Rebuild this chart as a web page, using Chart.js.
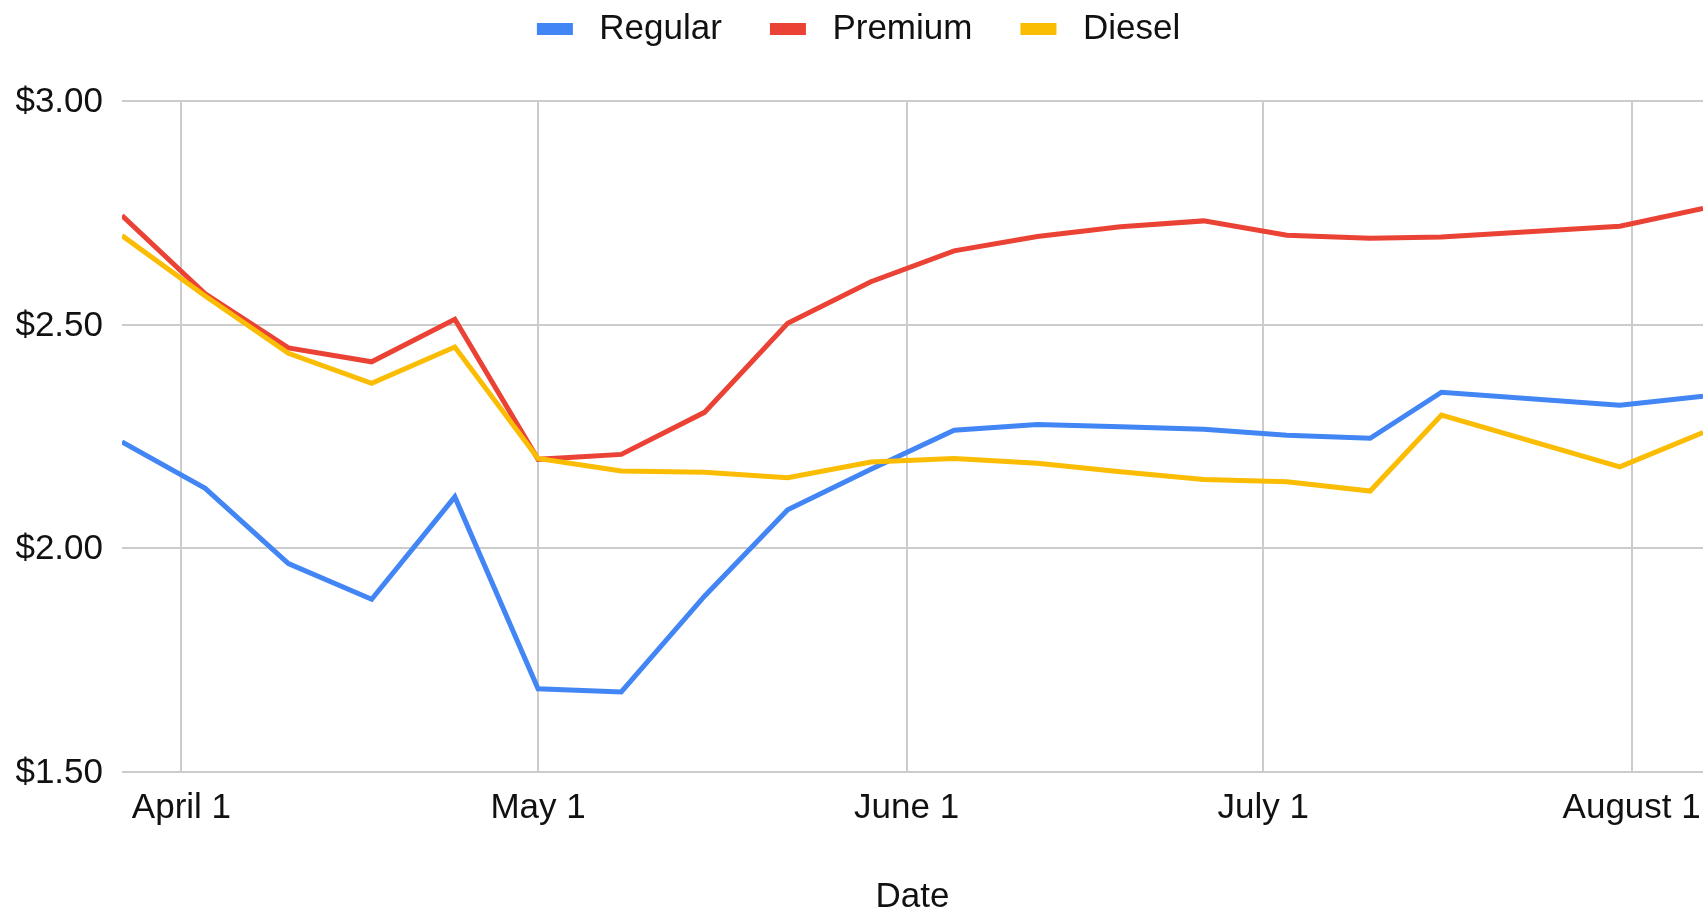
<!DOCTYPE html>
<html>
<head>
<meta charset="utf-8">
<script src="https://cdn.jsdelivr.net/npm/chart.js@4/dist/chart.umd.min.js"></script>
<style>
  html, body { margin: 0; padding: 0; background: #ffffff; }
  #wrap { width: 1706px; height: 913px; position: relative; }
</style>
</head>
<body>
<div id="wrap"><canvas id="c"></canvas></div>
<script>
// ---------- data ----------
const dates = ['2020-03-27','2020-04-03','2020-04-10','2020-04-17','2020-04-24',
               '2020-05-01','2020-05-08','2020-05-15','2020-05-22','2020-05-29',
               '2020-06-05','2020-06-12','2020-06-19','2020-06-26','2020-07-03',
               '2020-07-10','2020-07-16','2020-07-31','2020-08-07'];
const regular = [2.238, 2.134, 1.966, 1.886, 2.115, 1.686, 1.679, 1.893, 2.086, 2.177,
                 2.264, 2.277, 2.272, 2.266, 2.253, 2.246, 2.349, 2.320, 2.340];
const premium = [2.744, 2.569, 2.448, 2.417, 2.512, 2.199, 2.210, 2.304, 2.503, 2.596,
                 2.665, 2.697, 2.719, 2.732, 2.700, 2.693, 2.696, 2.720, 2.760];
const diesel  = [2.699, 2.564, 2.436, 2.369, 2.450, 2.201, 2.173, 2.170, 2.158, 2.193,
                 2.201, 2.190, 2.171, 2.154, 2.149, 2.128, 2.298, 2.182, 2.259];
const seriesNames  = ['Regular', 'Premium', 'Diesel'];
const seriesColors = ['#4285F4', '#EA4335', '#FBBC04'];
const tickDates  = ['2020-04-01', '2020-05-01', '2020-06-01', '2020-07-01', '2020-08-01'];
const tickLabels = ['April 1', 'May 1', 'June 1', 'July 1', 'August 1'];
const yTicks = [1.5, 2.0, 2.5, 3.0];
const xTitle = 'Date';

// ---------- helpers ----------
const DAY = 86400000;
const base = Date.parse(dates[0]);
const dayNum = d => Math.round((Date.parse(d) - base) / DAY);

const FONT = '"Liberation Sans", Arial, Helvetica, sans-serif';
const TEXT = '#111111';
const GRID = '#cccccc';
const LAYOUT = { top: -28.5, left: 6, right: 3, bottom: 0 };
const PLOT_TOP = 101;

function swatch(color) {
  const c = document.createElement('canvas');
  c.width = 53; c.height = 14;
  const g = c.getContext('2d');
  g.fillStyle = color;
  g.fillRect(8, 1, 36, 12);
  return c;
}

const legendSpacer = {
  id: 'legendSpacer',
  beforeLayout(chart) {
    const lg = chart.legend;
    if (lg && !lg.__spaced) {
      const fit = lg.fit;
      lg.fit = function () { fit.call(this); this.height = PLOT_TOP - LAYOUT.top; };
      lg.__spaced = true;
    }
  }
};

const seriesValues = [regular, premium, diesel];
const datasets = seriesNames.map((name, i) => ({
  label: name,
  data: dates.map((d, j) => ({ x: dayNum(d), y: seriesValues[i][j] })),
  borderColor: seriesColors[i],
  backgroundColor: seriesColors[i],
  borderWidth: 5,
  pointRadius: 0,
  pointHoverRadius: 0,
  pointStyle: swatch(seriesColors[i]),
  tension: 0,
  fill: false,
  order: seriesNames.length - i
}));

new Chart(document.getElementById('c'), {
  type: 'line',
  data: { datasets },
  plugins: [legendSpacer],
  options: {
    responsive: true,
    maintainAspectRatio: false,
    animation: false,
    events: [],
    layout: { padding: LAYOUT },
    plugins: {
      legend: {
        position: 'top',
        align: 'center',
        labels: {
          usePointStyle: true,
          pointStyleWidth: 53,
          boxHeight: 14,
          padding: 40,
          color: TEXT,
          font: { family: FONT, size: 35 },
          sort: (a, b) => a.datasetIndex - b.datasetIndex
        }
      },
      tooltip: { enabled: false }
    },
    scales: {
      x: {
        type: 'linear',
        min: dayNum(dates[0]),
        max: dayNum(dates[dates.length - 1]),
        afterBuildTicks: s => { s.ticks = tickDates.map(d => ({ value: dayNum(d) })); },
        afterFit: s => { s.height = 141; s.paddingLeft = 0; s.paddingRight = 0; },
        grid: { color: GRID, lineWidth: 2, drawTicks: false },
        border: { display: false },
        ticks: {
          autoSkip: false, maxRotation: 0, minRotation: 0, padding: 15,
          color: TEXT, font: { family: FONT, size: 35, lineHeight: 1.2 },
          callback: (v, i) => tickLabels[i]
        },
        title: {
          display: true, text: xTitle, color: TEXT,
          font: { family: FONT, size: 35, lineHeight: 1 },
          padding: { top: 0, bottom: -1.5 }
        }
      },
      y: {
        min: yTicks[0],
        max: yTicks[yTicks.length - 1],
        afterBuildTicks: s => { s.ticks = yTicks.map(v => ({ value: v })); },
        afterFit: s => { s.width = 122 - LAYOUT.left; },
        grid: { color: GRID, lineWidth: 2, drawTicks: false },
        border: { display: false },
        ticks: {
          padding: 19, labelOffset: 1.5, color: TEXT,
          font: { family: FONT, size: 35, lineHeight: 1.2 },
          callback: v => '$' + Number(v).toFixed(2)
        }
      }
    }
  }
});
</script>
</body>
</html>
